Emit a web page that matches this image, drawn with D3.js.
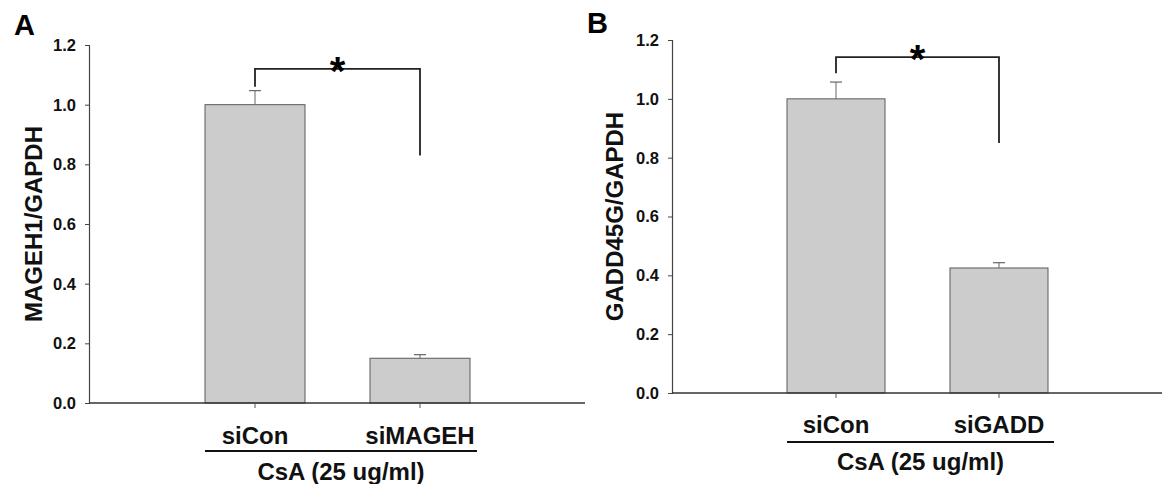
<!DOCTYPE html>
<html><head><meta charset="utf-8">
<script src="https://cdn.jsdelivr.net/npm/d3@7"></script>
<style>body{margin:0;background:#fff}svg{display:block;font-family:"Liberation Sans",Arial,sans-serif}</style>
</head><body><svg id="c" width="1171" height="484"></svg>
<script>
const yTicks = [0, 0.2, 0.4, 0.6, 0.8, 1.0, 1.2];
const categoriesA = ["siCon", "siMAGEH"];
const valuesA = [1.0, 0.15];
const errorsA = [0.047, 0.012];
const categoriesB = ["siCon", "siGADD"];
const valuesB = [1.0, 0.425];
const errorsB = [0.057, 0.018];
const groupLabel = "CsA (25 ug/ml)";

const svg = d3.select("#c");
const fmt = d3.format(".1f");

function panel(o) {
  const g = svg.append("g");
  const y = d3.scaleLinear().domain([0, 1.2]).range([o.y0, o.y12]);
  const x = d3.scalePoint().domain(o.cats).range([o.c1, o.c2]);
  const bw = o.bw;
  // y axis (line + ticks from d3 axis, labels drawn as bold text)
  const ya = d3.axisLeft(y).tickValues(yTicks).tickFormat("").tickSizeOuter(0).tickSize(4);
  const yg = g.append("g").attr("transform", `translate(${o.ax},0)`).call(ya);
  yg.select(".domain").attr("stroke", "#444").attr("stroke-width", 1.2);
  yg.selectAll(".tick line").attr("stroke", "#444");
  g.selectAll("text.ytl").data(yTicks).enter().append("text").attr("class", "ytl")
    .attr("x", o.ax - 13).attr("y", d => y(d)).attr("dy", "0.36em")
    .attr("text-anchor", "end").attr("font-size", 16.5).attr("font-weight", "bold").attr("fill", "#111")
    .text(d => fmt(d));
  // bars
  g.selectAll("rect.bar").data(o.vals).enter().append("rect")
    .attr("x", (d, i) => x(o.cats[i]) - bw / 2)
    .attr("width", bw)
    .attr("y", d => y(d))
    .attr("height", d => y(0) - y(d))
    .attr("fill", "#cccccc").attr("stroke", "#5a5a5a").attr("stroke-width", 1);
  // error bars
  o.vals.forEach((v, i) => {
    const cx = x(o.cats[i]);
    g.append("line").attr("x1", cx).attr("x2", cx).attr("y1", y(v)).attr("y2", y(v + o.errs[i])).attr("stroke", "#666").attr("stroke-width", 1);
    g.append("line").attr("x1", cx - 6).attr("x2", cx + 6).attr("y1", y(v + o.errs[i])).attr("y2", y(v + o.errs[i])).attr("stroke", "#666").attr("stroke-width", 1.2);
  });
  // x axis
  g.append("line").attr("x1", o.ax).attr("x2", o.xEnd).attr("y1", y(0)).attr("y2", y(0)).attr("stroke", "#333").attr("stroke-width", 1.3);
  o.cats.forEach(c => {
    g.append("line").attr("x1", x(c)).attr("x2", x(c)).attr("y1", y(0)).attr("y2", y(0) + 5).attr("stroke", "#555");
    g.append("text").attr("x", x(c)).attr("y", o.labY).attr("text-anchor", "middle")
      .attr("font-size", 24).attr("font-weight", "bold").attr("fill", "#111").text(c);
  });
  g.append("line").attr("x1", o.ulX1).attr("x2", o.ulX2).attr("y1", o.ulY).attr("y2", o.ulY).attr("stroke", "#111").attr("stroke-width", 2);
  g.append("text").attr("x", (o.ulX1 + o.ulX2) / 2).attr("y", o.grpY).attr("text-anchor", "middle")
    .attr("font-size", 24).attr("font-weight", "bold").attr("fill", "#111").text(groupLabel);
  // bracket
  const x1 = x(o.cats[0]), x2 = x(o.cats[1]);
  g.append("path").attr("d", `M${x1},${y(o.brL)}V${y(o.brTop)}H${x2}V${y(o.brR)}`)
    .attr("fill", "none").attr("stroke", "#222").attr("stroke-width", 1.8);
  g.append("text").attr("x", (x1 + x2) / 2).attr("y", y(o.brTop) + 16).attr("text-anchor", "middle")
    .attr("font-size", 40).attr("font-weight", "bold").attr("fill", "#000").text("*");
  // y label
  g.append("text").attr("transform", `translate(${o.ylx},${(o.y0 + o.y12) / 2}) rotate(-90)`)
    .attr("text-anchor", "middle").attr("font-size", 24).attr("font-weight", "bold").attr("fill", "#111").text(o.ylab);
  // panel letter
  g.append("text").attr("x", o.lx).attr("y", o.ly).attr("font-size", 29).attr("font-weight", "bold").attr("fill", "#000").text(o.letter);
}

panel({cats: categoriesA, vals: valuesA, errs: errorsA, ax: 89, xEnd: 585, y0: 403, y12: 45,
  c1: 255, c2: 420, bw: 100, labY: 444, ulX1: 205, ulX2: 477, ulY: 451, grpY: 480,
  brTop: 1.12, brL: 1.06, brR: 0.83, ylx: 42, ylab: "MAGEH1/GAPDH", letter: "A", lx: 14, ly: 35});
panel({cats: categoriesB, vals: valuesB, errs: errorsB, ax: 672, xEnd: 1162, y0: 393, y12: 40,
  c1: 836, c2: 999, bw: 98, labY: 433, ulX1: 787, ulX2: 1054, ulY: 442, grpY: 470,
  brTop: 1.142, brL: 1.087, brR: 0.85, ylx: 623, ylab: "GADD45G/GAPDH", letter: "B", lx: 587, ly: 33});
</script></body></html>
